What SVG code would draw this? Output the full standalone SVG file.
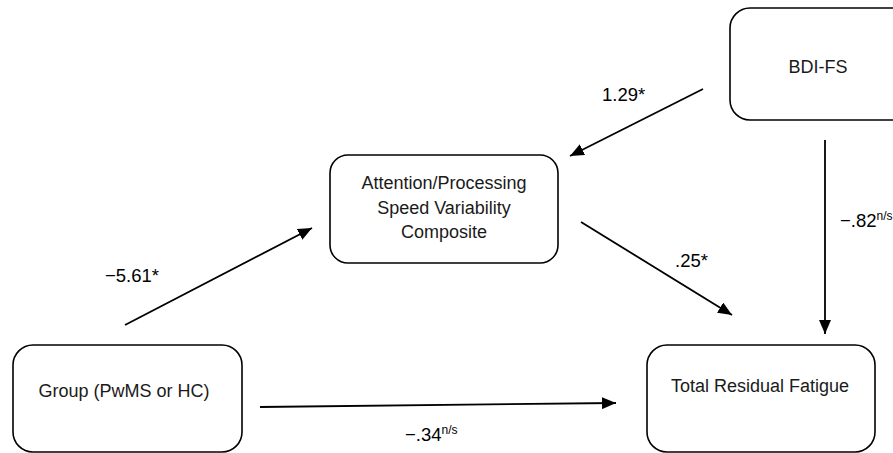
<svg xmlns="http://www.w3.org/2000/svg" width="893" height="453" viewBox="0 0 893 453">
  <style>
    .box { fill: #ffffff; stroke: #000000; stroke-width: 1.6; }
    .lbl { font-family: "Liberation Sans", Arial, sans-serif; font-size: 18px; fill: #1a1a1a; text-anchor: middle; }
    .coef { font-family: "Liberation Sans", Arial, sans-serif; font-size: 18.5px; fill: #000000; }
    .sup { font-size: 12px; }
    .edge { stroke: #000000; stroke-width: 1.8; fill: none; marker-end: url(#arrow); }
  </style>
  <defs>
    <marker id="arrow" markerUnits="userSpaceOnUse" markerWidth="14" markerHeight="12" refX="14" refY="6" orient="auto">
      <path d="M0,0 L14,6 L0,12 Z" fill="#000000"/>
    </marker>
  </defs>
  <rect width="893" height="453" fill="#ffffff"/>

  <g id="node-bdi">
    <rect class="box" x="730" y="8" width="185" height="112" rx="20" ry="20"/>
    <text class="lbl" x="818" y="73">BDI-FS</text>
  </g>

  <g id="node-attention">
    <rect class="box" x="330" y="155" width="228" height="108" rx="18" ry="18"/>
    <text class="lbl" x="444" y="189">Attention/Processing</text>
    <text class="lbl" x="444" y="214">Speed Variability</text>
    <text class="lbl" x="444" y="238">Composite</text>
  </g>

  <g id="node-group">
    <rect class="box" x="13" y="345" width="229" height="107" rx="20" ry="20"/>
    <text class="lbl" x="124" y="397">Group (PwMS or HC)</text>
  </g>

  <g id="node-fatigue">
    <rect class="box" x="647" y="345" width="228" height="107" rx="20" ry="20"/>
    <text class="lbl" x="760" y="392">Total Residual Fatigue</text>
  </g>

  <g id="connectors">
    <line class="edge" x1="703" y1="89" x2="570" y2="156"/>
    <line class="edge" x1="125" y1="325" x2="312" y2="228"/>
    <line class="edge" x1="581" y1="222" x2="732" y2="315"/>
    <line class="edge" x1="825" y1="140" x2="825" y2="334"/>
    <line class="edge" x1="260" y1="407" x2="616" y2="403"/>

    <text class="coef" x="602" y="101">1.29*</text>
    <text class="coef" x="105" y="282">−5.61*</text>
    <text class="coef" x="675" y="267">.25*</text>
    <text class="coef" x="840" y="227">−.82<tspan class="sup" dy="-7">n/s</tspan></text>
    <text class="coef" x="405" y="441">−.34<tspan class="sup" dy="-7">n/s</tspan></text>
  </g>
</svg>
